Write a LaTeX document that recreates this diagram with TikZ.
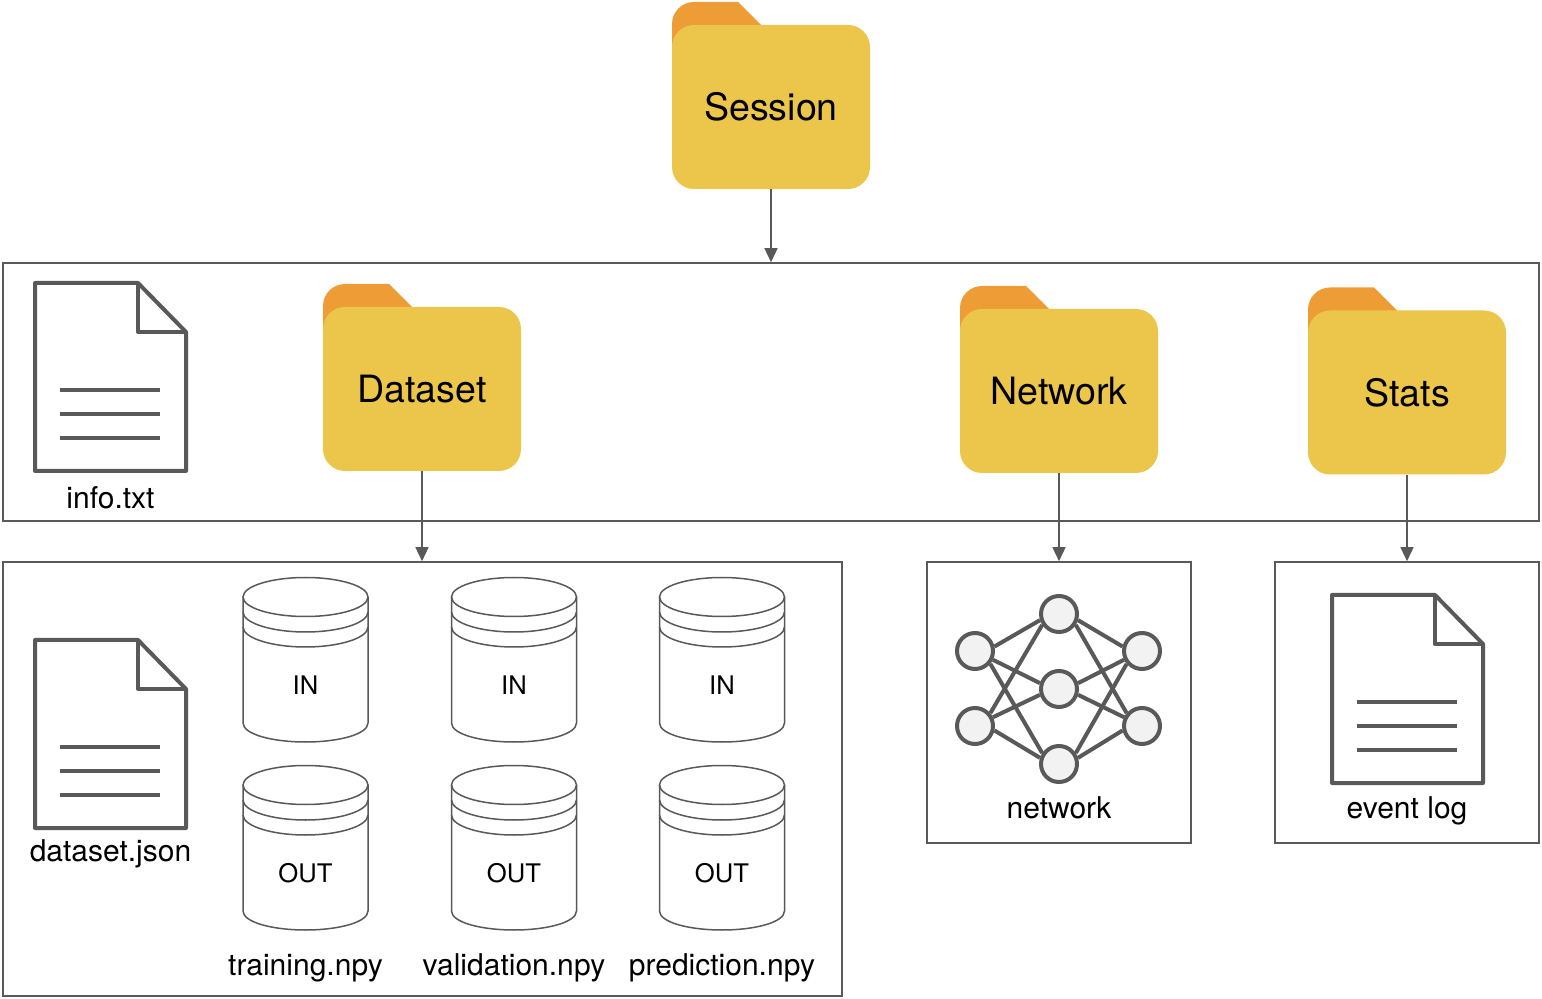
\documentclass[tikz,border=0pt]{standalone}
\usepackage{fontspec}
\setmainfont{TeX Gyre Heros}
\usetikzlibrary{arrows.meta}
\definecolor{folderbody}{RGB}{236,198,75}
\definecolor{foldertab}{RGB}{237,156,54}
\definecolor{linegray}{RGB}{89,89,89}
\definecolor{neurongray}{RGB}{242,242,242}
\tikzset{
  panel/.style={draw=linegray,line width=0.8pt,minimum width=#1,inner sep=0pt},
  folderbox/.style={fill=folderbody,rounded corners=11pt,minimum width=99pt,minimum height=82pt,inner sep=0pt,font=\fontsize{18.8}{20}\selectfont},
  filetext/.style={font=\fontsize{15}{17}\selectfont,inner sep=0pt},
  dbtext/.style={font=\fontsize{12.8}{15}\selectfont,inner sep=0pt},
  docline/.style={draw=linegray,line width=2pt},
  dbline/.style={draw=linegray,line width=0.75pt},
  neuron/.style={circle,draw=linegray,fill=neurongray,line width=2pt,minimum size=18pt,inner sep=0pt},
  link/.style={draw=linegray,line width=0.75pt,-{Triangle[length=7pt,width=6.5pt]}}
}
% name, centre x, centre y, text
\newcommand{\folder}[4]{
  \fill[foldertab,rounded corners=11pt] (#2-99,#3-50) -- (#2-99,#3-105) [sharp corners] -- (#2-33,#3-105) -- (#2-10,#3-82) -- (#2-10,#3-50) --cycle;
  \node[folderbox] (#1) at (#2,#3) {#4};
}
% left x, top y
\newcommand{\docicon}[2]{
  \draw[docline,line join=round] (#1+103,#2) -- (#1,#2) -- (#1,#2+188) -- (#1+151,#2+188) -- (#1+151,#2+49) --cycle;
  \draw[docline,line join=round] (#1+103,#2) -- (#1+103,#2+49) -- (#1+151,#2+49);
  \draw[docline] (#1+25,#2+107) -- (#1+125,#2+107);
  \draw[docline] (#1+25,#2+131) -- (#1+125,#2+131);
  \draw[docline] (#1+25,#2+155) -- (#1+125,#2+155);
}
% name, centre x, top y, text
\newcommand{\dbcan}[4]{
  \draw[dbline,fill=white] (#2-62.5,#3+19) -- (#2-62.5,#3+145) .. controls (#2-62.5,#3+156) and (#2-34,#3+164) .. (#2,#3+164) .. controls (#2+34,#3+164) and (#2+62.5,#3+156) .. (#2+62.5,#3+145) -- (#2+62.5,#3+19);
  \draw[dbline] (#2,#3+19) ellipse [x radius=62.5,y radius=19.5];
  \draw[dbline] (#2-62.5,#3+34) .. controls (#2-62.5,#3+45) and (#2-34,#3+54) .. (#2,#3+54) .. controls (#2+34,#3+54) and (#2+62.5,#3+45) .. (#2+62.5,#3+34);
  \draw[dbline] (#2-62.5,#3+49) .. controls (#2-62.5,#3+60) and (#2-34,#3+69) .. (#2,#3+69) .. controls (#2+34,#3+69) and (#2+62.5,#3+60) .. (#2+62.5,#3+49);
  \node[dbtext] (#1) at (#2,#3+107) {#4};
}
\begin{document}
\begin{tikzpicture}[x=0.5pt,y=-0.5pt]
\useasboundingbox (0,0) rectangle (1542,999);

% boxes
\node[panel=768pt,minimum height=129pt] (sessionbox) at (771,392) {};
\node[panel=419.5pt,minimum height=217pt] (datasetbox) at (422.5,779) {};
\node[panel=132pt,minimum height=140.5pt] (networkbox) at (1059,702.5) {};
\node[panel=132pt,minimum height=140.5pt] (statsbox) at (1407,702.5) {};

% folders
\folder{session}{771}{107}{Session}
\folder{dataset}{422}{389}{Dataset}
\folder{network}{1059}{391}{Network}
\folder{stats}{1407}{392.5}{Stats}

\draw[link] (session) -- (sessionbox);
\draw[link] (dataset) -- (dataset |- datasetbox.north);
\draw[link] (network) -- (networkbox);
\draw[link] (stats) -- (statsbox);

% files
\docicon{35}{283}
\node[filetext] (info) at (110.5,498) {info.txt};
\docicon{35}{640}
\node[filetext] (datasetjson) at (110.5,854) {dataset.json};
\docicon{1332}{595}
\node[filetext] (eventlog) at (1407,811) {event log};

% arrays
\foreach \n/\x/\lab in {training/305.5/training.npy,validation/514/validation.npy,prediction/722/prediction.npy}{
  \dbcan{\n in}{\x}{578}{IN}
  \dbcan{\n out}{\x}{766}{OUT}
  \node[filetext] (\n) at (\x,968) {\lab};
}

% net
\foreach \a/\x/\y in {l1/975/651,l2/975/726,m1/1059/614,m2/1059/689,m3/1059/764,r1/1142/651,r2/1142/726}
  \node[neuron] (\a) at (\x,\y) {};
\foreach \a/\b/\s/\t in {l1/m1/13/198,l1/m2/-26/163,l1/m3/-40/147,l2/m3/-13/162,l2/m2/26/197,l2/m1/40/213,
  r1/m1/167/-18,r1/m2/206/17,r1/m3/220/33,r2/m3/193/18,r2/m2/154/-17,r2/m1/140/-33}
  \draw[linegray,line width=2pt] (\a.\s) -- (\b.\t);
\node[filetext] (netlabel) at (1059,808) {network};

\end{tikzpicture}
\end{document}
